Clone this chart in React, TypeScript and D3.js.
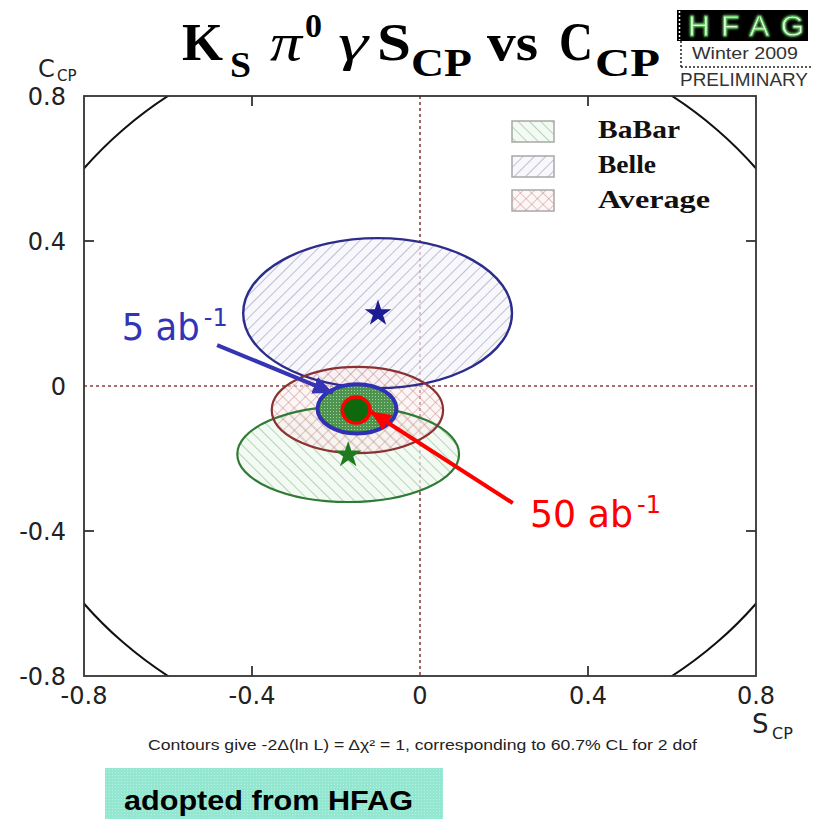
import React from "react";
import * as d3 from "d3";

// ---------- data ----------
const axisDomain: [number, number] = [-0.8, 0.8];
const tickValues = [-0.8, -0.4, 0, 0.4, 0.8];
const tickLabels = ["-0.8", "-0.4", "0", "0.4", "0.8"];
const innerTicks = [-0.4, 0.4];

// contour ellipses: [centerS, centerC, radiusS, radiusC]
const belleEllipse = [-0.101, 0.201, 0.32, 0.207];
const babarEllipse = [-0.171, -0.188, 0.264, 0.132];
const averageEllipse = [-0.149, -0.066, 0.204, 0.119];
const proj5Ellipse = [-0.15, -0.063, 0.094, 0.068];
const proj50Ellipse = [-0.152, -0.066, 0.033, 0.036];

// central values (stars)
const belleStar = [-0.1, 0.2];
const babarStar = [-0.171, -0.19];

const legendLabels = ["BaBar", "Belle", "Average"];

// annotations in data coordinates
const blueArrow = [[-0.483, 0.113], [-0.207, -0.019]];
const redArrow = [[0.221, -0.323], [-0.117, -0.071]];
const blueLabelPos = [-0.71, 0.127];
const redLabelPos = [0.262, -0.389];

// ---------- layout ----------
const W = 817;
const H = 819;
const x = d3.scaleLinear().domain(axisDomain).range([84, 756]);
const y = d3.scaleLinear().domain(axisDomain).range([676, 96]);

function ell(e: number[]) {
  const [cx, cy, rx, ry] = e;
  return {
    cx: x(cx),
    cy: y(cy),
    rx: x(cx + rx) - x(cx),
    ry: y(cy) - y(cy + ry),
  };
}

const starPath = d3.symbol().type(d3.symbolStar).size(220)() as string;

export default function App() {
  const belle = ell(belleEllipse);
  const babar = ell(babarEllipse);
  const avg = ell(averageEllipse);
  const p5 = ell(proj5Ellipse);
  const p50 = ell(proj50Ellipse);
  const unit = { cx: x(0), cy: y(0), rx: x(1) - x(0), ry: y(0) - y(1) };

  const legendFills = ["url(#hatchBabar)", "url(#hatchBelle)", "url(#hatchAvg)"];
  const legendY = [121, 156, 190];
  const legendBase = [138, 173, 208];
  const legendLen = [82, 58, 112];

  const bx = x(blueLabelPos[0]);
  const by = y(blueLabelPos[1]);
  const rx0 = x(redLabelPos[0]);
  const ry0 = y(redLabelPos[1]);

  return (
    <svg
      width={W}
      height={H}
      style={{ position: "absolute", left: 0, top: 0, background: "#fff" }}
      xmlns="http://www.w3.org/2000/svg"
    >
      <defs>
        <clipPath id="plotClip">
          <rect x={x(-0.8)} y={y(0.8)} width={x(0.8) - x(-0.8)} height={y(-0.8) - y(0.8)} />
        </clipPath>
        <pattern id="hatchBelle" width="8" height="8" patternUnits="userSpaceOnUse" patternTransform="rotate(45)">
          <rect width="8" height="8" fill="#f4f4fb" fillOpacity="0.7" />
          <line x1="0" y1="0" x2="0" y2="8" stroke="#8f8fb0" strokeWidth="1.1" />
        </pattern>
        <pattern id="hatchBabar" width="8" height="8" patternUnits="userSpaceOnUse" patternTransform="rotate(-45)">
          <rect width="8" height="8" fill="#eef7ee" fillOpacity="0.7" />
          <line x1="0" y1="0" x2="0" y2="8" stroke="#7fb87f" strokeWidth="1.1" />
        </pattern>
        <pattern id="hatchAvg" width="8" height="8" patternUnits="userSpaceOnUse" patternTransform="rotate(45)">
          <rect width="8" height="8" fill="#fbeeee" fillOpacity="0.5" />
          <line x1="0" y1="0" x2="0" y2="8" stroke="#c98a8a" strokeWidth="1" />
          <line x1="0" y1="0" x2="8" y2="0" stroke="#c98a8a" strokeWidth="1" />
        </pattern>
        <pattern id="stipple" width="3" height="3" patternUnits="userSpaceOnUse">
          <rect width="3" height="3" fill="#4e944e" />
          <rect x="0" y="0" width="1" height="1" fill="#9fd09f" />
        </pattern>
        <pattern id="tealDots" width="3" height="3" patternUnits="userSpaceOnUse">
          <rect width="3" height="3" fill="#93e6d0" />
          <rect x="1" y="1" width="1" height="1" fill="#b6f0e0" />
        </pattern>
        <marker id="arrowBlue" markerUnits="userSpaceOnUse" markerWidth="24" markerHeight="20" refX="20" refY="9" orient="auto">
          <path d="M0,0 L20,9 L0,18 Z" fill="#3434b4" />
        </marker>
        <marker id="arrowRed" markerUnits="userSpaceOnUse" markerWidth="24" markerHeight="20" refX="20" refY="9" orient="auto">
          <path d="M0,0 L20,9 L0,18 Z" fill="#ff0000" />
        </marker>
        <filter id="glow" x="-10%" y="-10%" width="120%" height="120%">
          <feGaussianBlur stdDeviation="1.4" result="b" />
          <feMerge>
            <feMergeNode in="b" />
            <feMergeNode in="SourceGraphic" />
          </feMerge>
        </filter>
      </defs>

      {/* Title */}
      <g fontFamily="'Liberation Serif', 'DejaVu Serif', serif" fontWeight="bold" fill="#000">
        <text x={182} y={60} fontSize={53} textLength={41} lengthAdjust="spacingAndGlyphs">K</text>
        <text x={230} y={77} fontSize={36} textLength={21} lengthAdjust="spacingAndGlyphs">S</text>
        <text x={270} y={60} fontSize={53} fontWeight="normal" fontStyle="italic" textLength={32} lengthAdjust="spacingAndGlyphs">π</text>
        <text x={305} y={37} fontSize={34} textLength={17} lengthAdjust="spacingAndGlyphs">0</text>
        <text x={338} y={60} fontSize={53} fontWeight="normal" fontStyle="italic" textLength={30} lengthAdjust="spacingAndGlyphs">γ</text>
        <text x={377} y={60} fontSize={53} textLength={34} lengthAdjust="spacingAndGlyphs">S</text>
        <text x={411} y={76} fontSize={40} textLength={61} lengthAdjust="spacingAndGlyphs">CP</text>
        <text x={487} y={60} fontSize={53} textLength={51} lengthAdjust="spacingAndGlyphs">vs</text>
        <text x={559} y={60} fontSize={55} textLength={34} lengthAdjust="spacingAndGlyphs">C</text>
        <text x={595} y={76} fontSize={40} textLength={65} lengthAdjust="spacingAndGlyphs">CP</text>
      </g>

      {/* HFAG logo */}
      <g>
        <rect x={677} y={10} width={131} height={31} fill="#000" />
        <line x1={679.5} y1={11} x2={679.5} y2={40} stroke="#fff" strokeWidth={1.5} strokeDasharray="2,2" />
        <text
          x={688}
          y={36}
          fontFamily="'Liberation Sans', Arial, sans-serif"
          fontSize={30}
          fill="#d6ffd0"
          stroke="#3fa83f"
          strokeWidth={0.8}
          textLength={116}
          lengthAdjust="spacing"
          filter="url(#glow)"
        >
          HFAG
        </text>
        <line x1={681} y1={41} x2={681} y2={67} stroke="#222" strokeWidth={1.5} strokeDasharray="2,2" />
        <line x1={681} y1={67} x2={811} y2={67} stroke="#222" strokeWidth={1.5} strokeDasharray="2,2" />
        <text x={692} y={59} fontFamily="'Liberation Sans', Arial, sans-serif" fontSize={17} fill="#333" textLength={106} lengthAdjust="spacingAndGlyphs">
          Winter 2009
        </text>
        <text x={680} y={86} fontFamily="'Liberation Sans', Arial, sans-serif" fontSize={18} fill="#333" textLength={128} lengthAdjust="spacingAndGlyphs">
          PRELIMINARY
        </text>
      </g>

      {/* Plot content */}
      <g clipPath="url(#plotClip)">
        <line x1={x(0)} x2={x(0)} y1={y(0.8)} y2={y(-0.8)} stroke="#8b3f3f" strokeWidth={1.6} strokeDasharray="3,3" />
        <line x1={x(-0.8)} x2={x(0.8)} y1={y(0)} y2={y(0)} stroke="#8b3f3f" strokeWidth={1.6} strokeDasharray="3,3" />

        <ellipse {...unit} fill="none" stroke="#111" strokeWidth={2} />

        <ellipse {...belle} fill="url(#hatchBelle)" />
        <ellipse {...babar} fill="url(#hatchBabar)" />
        <ellipse {...avg} fill="url(#hatchAvg)" />

        <ellipse {...belle} fill="none" stroke="#2c2c8a" strokeWidth={2.4} />
        <ellipse {...babar} fill="none" stroke="#2f7a35" strokeWidth={2.2} />
        <ellipse {...avg} fill="none" stroke="#8a3232" strokeWidth={2.2} />

        <path d={starPath} transform={`translate(${x(belleStar[0])},${y(belleStar[1])})`} fill="#1c1c94" />
        <path d={starPath} transform={`translate(${x(babarStar[0])},${y(babarStar[1])})`} fill="#1f7a1f" />

        <ellipse {...p5} fill="url(#stipple)" stroke="#3030b4" strokeWidth={4} />
        <ellipse {...p50} fill="#0c6a0c" stroke="#ff0000" strokeWidth={3.5} />
      </g>

      {/* frame */}
      <rect x={x(-0.8)} y={y(0.8)} width={x(0.8) - x(-0.8)} height={y(-0.8) - y(0.8)} fill="none" stroke="#333" strokeWidth={1.8} />

      {/* ticks */}
      {innerTicks.map((t) => (
        <g key={"t" + t} stroke="#333" strokeWidth={1.8}>
          <line x1={x(t)} x2={x(t)} y1={y(-0.8)} y2={y(-0.8) - 10} />
          <line x1={x(t)} x2={x(t)} y1={y(0.8)} y2={y(0.8) + 10} />
          <line x1={x(-0.8)} x2={x(-0.8) + 10} y1={y(t)} y2={y(t)} />
          <line x1={x(0.8)} x2={x(0.8) - 10} y1={y(t)} y2={y(t)} />
        </g>
      ))}

      {/* tick labels */}
      <g fontFamily="'DejaVu Sans', sans-serif" fontSize={24} fill="#222">
        {tickValues.map((t, i) => (
          <text key={"x" + t} x={x(t)} y={704} textAnchor="middle">
            {tickLabels[i]}
          </text>
        ))}
        {tickValues.map((t, i) => (
          <text key={"y" + t} x={66} y={y(t) + 9} textAnchor="end">
            {tickLabels[i]}
          </text>
        ))}
      </g>

      {/* axis titles */}
      <g fontFamily="'DejaVu Sans', sans-serif" fill="#222">
        <text x={38} y={77} fontSize={24}>C</text>
        <text x={57} y={81} fontSize={15}>CP</text>
        <text x={752} y={733} fontSize={26}>S</text>
        <text x={772} y={739} fontSize={16}>CP</text>
      </g>

      {/* legend */}
      {legendLabels.map((lab, i) => (
        <g key={lab}>
          <rect x={512} y={legendY[i]} width={42} height={21} fill={legendFills[i]} stroke="#a8a8a8" strokeWidth={1.5} />
          <text
            x={598}
            y={legendBase[i]}
            fontFamily="'Liberation Serif', serif"
            fontWeight="bold"
            fontSize={25}
            fill="#111"
            textLength={legendLen[i]}
            lengthAdjust="spacingAndGlyphs"
          >
            {lab}
          </text>
        </g>
      ))}

      {/* annotations */}
      <line
        x1={x(blueArrow[0][0])}
        y1={y(blueArrow[0][1])}
        x2={x(blueArrow[1][0])}
        y2={y(blueArrow[1][1])}
        stroke="#3434b4"
        strokeWidth={4}
        markerEnd="url(#arrowBlue)"
      />
      <line
        x1={x(redArrow[0][0])}
        y1={y(redArrow[0][1])}
        x2={x(redArrow[1][0])}
        y2={y(redArrow[1][1])}
        stroke="#ff0000"
        strokeWidth={4}
        markerEnd="url(#arrowRed)"
      />
      <g fontFamily="'DejaVu Sans', Verdana, sans-serif">
        <text x={bx} y={by} fill="#3333b8" fontSize={38} textLength={78} lengthAdjust="spacingAndGlyphs">5 ab</text>
        <text x={bx + 82} y={by - 14} fill="#3333b8" fontSize={24}>-1</text>
        <text x={rx0} y={ry0} fill="#ff0000" fontSize={38} textLength={103} lengthAdjust="spacingAndGlyphs">50 ab</text>
        <text x={rx0 + 107} y={ry0 - 14} fill="#ff0000" fontSize={24}>-1</text>
      </g>

      {/* footnote */}
      <text
        x={148}
        y={750}
        fontFamily="'Liberation Sans', Arial, sans-serif"
        fontSize={14}
        fill="#222"
        textLength={549}
        lengthAdjust="spacingAndGlyphs"
      >
        Contours give -2Δ(ln L) = Δχ² = 1, corresponding to 60.7% CL for 2 dof
      </text>

      {/* adopted box */}
      <rect x={105} y={768} width={338} height={51} fill="url(#tealDots)" />
      <text
        x={124}
        y={810}
        fontFamily="'Liberation Sans Narrow', 'Liberation Sans', Arial, sans-serif"
        fontWeight="bold"
        fontSize={28}
        fill="#000"
        textLength={289}
        lengthAdjust="spacingAndGlyphs"
      >
        adopted from HFAG
      </text>
    </svg>
  );
}
